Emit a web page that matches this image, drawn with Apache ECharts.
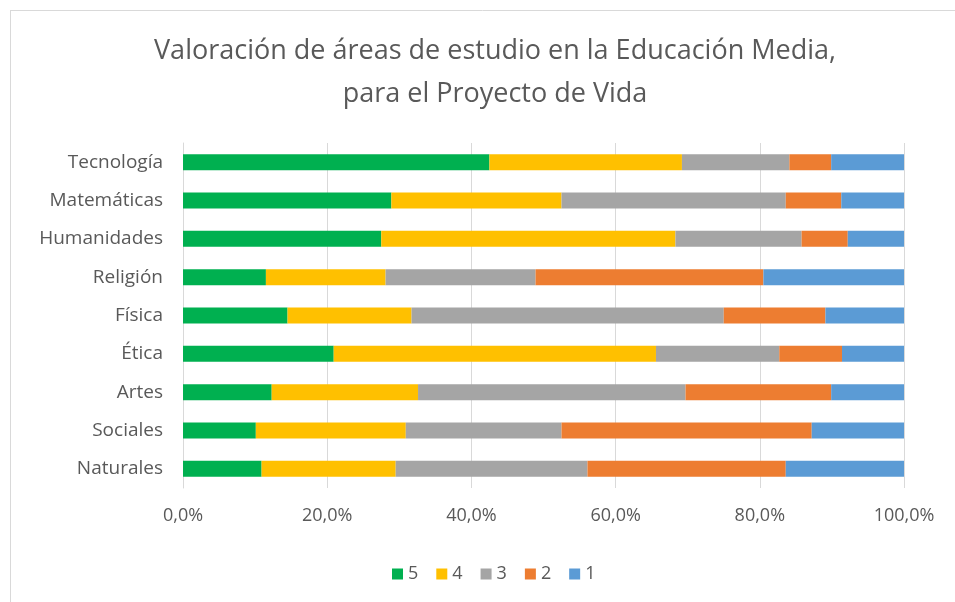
<!DOCTYPE html>
<html>
<head>
<meta charset="utf-8">
<script src="https://cdn.jsdelivr.net/npm/echarts@6/dist/echarts.min.js"></script>
<style>
html,body{margin:0;padding:0;background:#fff;}
#chart{width:955px;height:602px;}
</style>
</head>
<body>
<div id="chart"></div>
<script>
// categorias de abajo hacia arriba
var areas = ['Naturales','Sociales','Artes','Ética','Física','Religión','Humanidades','Matemáticas','Tecnología'];
var niveles = ['5','4','3','2','1'];
var colores = ['#00b050','#ffc000','#a5a5a5','#ed7d31','#5b9bd5'];
// porcentajes por nivel (mismo orden que areas)
var v5 = [10.9, 10.1, 12.3, 20.9, 14.5, 11.5, 27.5, 28.9, 42.5];
var v4 = [18.6, 20.8, 20.3, 44.7, 17.2, 16.6, 40.8, 23.6, 26.7];
var v3 = [26.6, 21.6, 37.1, 17.1, 43.3, 20.8, 17.5, 31.1, 14.9];
var v2 = [27.5, 34.7, 20.2,  8.7, 14.1, 31.6,  6.4,  7.7,  5.8];
var v1 = [16.4, 12.8, 10.1,  8.6, 10.9, 19.5,  7.8,  8.7, 10.1];
var valores = [v5, v4, v3, v2, v1];

var fuente = 'Open Sans';
var gris = '#595959';

var myChart = echarts.init(document.getElementById('chart'));

var series = [];
for (var i = 0; i < niveles.length; i++) {
	series.push({
		name: niveles[i],
		type: 'bar',
		stack: 'total',
		barWidth: 16,
		itemStyle: { color: colores[i] },
		data: valores[i]
	});
}

var option = {
	animation: false,
	textStyle: { fontFamily: fuente },
	title: {
		text: 'Valoración de áreas de estudio en la Educación Media,\npara el Proyecto de Vida',
		left: 490,
		top: 25,
		textAlign: 'center',
		textStyle: {
			fontFamily: fuente,
			fontSize: 27,
			fontWeight: 'normal',
			color: gris,
			lineHeight: 43
		}
	},
	legend: {
		data: niveles,
		top: 560,
		left: 387,
		itemWidth: 11,
		itemHeight: 11,
		itemGap: 18,
		icon: 'rect',
		textStyle: { fontFamily: fuente, fontSize: 18, color: gris }
	},
	grid: {
		left: 183,
		right: 51,
		top: 143,
		bottom: 114
	},
	xAxis: {
		type: 'value',
		min: 0,
		max: 100,
		interval: 20,
		axisLine: { show: false },
		axisTick: { show: false },
		splitLine: { show: true, lineStyle: { color: '#d9d9d9', width: 1 } },
		axisLabel: {
			margin: 19,
			fontFamily: fuente,
			fontSize: 18,
			color: gris,
			formatter: function (v) { return v.toFixed(1).replace('.', ',') + '%'; }
		}
	},
	yAxis: {
		type: 'category',
		data: areas,
		axisLine: { show: true, lineStyle: { color: '#d9d9d9' } },
		axisTick: { show: false },
		axisLabel: {
			margin: 20,
			fontFamily: fuente,
			fontSize: 19,
			color: gris
		}
	},
	graphic: [
		{ type: 'line', shape: { x1: 10, y1: 10.5, x2: 955, y2: 10.5 }, style: { stroke: '#d9d9d9', lineWidth: 1 } },
		{ type: 'line', shape: { x1: 10.5, y1: 10, x2: 10.5, y2: 602 }, style: { stroke: '#d9d9d9', lineWidth: 1 } }
	],
	series: series
};

myChart.setOption(option);
</script>
</body>
</html>
